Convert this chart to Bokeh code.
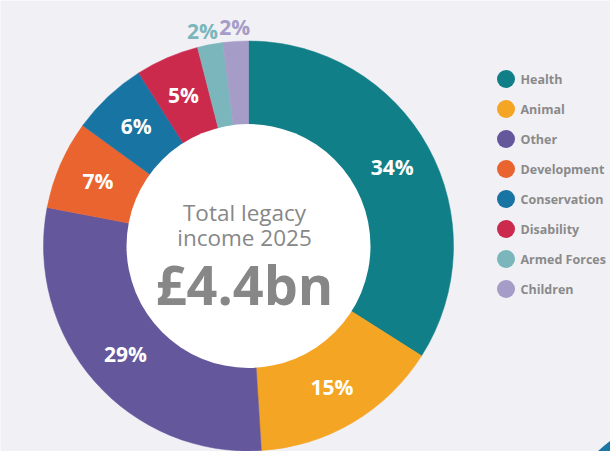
import math

from bokeh.core.properties import value
from bokeh.embed import file_html
from bokeh.models import ColumnDataSource, Range1d
from bokeh.plotting import figure
from bokeh.resources import INLINE

# data
categories = ["Health", "Animal", "Other", "Development", "Conservation",
              "Disability", "Armed Forces", "Children"]
shares = [34, 15, 29, 7, 6, 5, 2, 2]
colors = ["#117f87", "#f4a523", "#64579b", "#ea6430", "#1874a2",
          "#cb2a4c", "#7ab6bc", "#a59cc7"]
outside = [False, False, False, False, False, False, True, True]
title_lines = ["Total legacy", "income 2025"]
total_label = "£4.4bn"

BG = "#f1f0f5"
GREY = "#878787"

# the drawing area uses the picture's pixels (y flipped)
W, H = 610, 451
cx, cy = 248, H - 245.5
r_out, r_in = 205, 122

p = figure(width=W, height=H, output_backend="svg", toolbar_location=None,
           x_range=Range1d(0, W), y_range=Range1d(0, H),
           background_fill_color=BG, border_fill_color=BG,
           min_border=0, outline_line_color=None)
p.axis.visible = False
p.grid.visible = False

# corner decoration (part of another disc, bottom right)
p.circle(x=[702], y=[H - 561], radius=152, fill_color="#1a77a5", line_color=None)

# wedges, clockwise from 12 o'clock
total = sum(shares)
starts, ends, lx, ly, lcol, labels, xoff = [], [], [], [], [], [], []
cum = 0
for s, c, out in zip(shares, colors, outside):
    a0 = math.pi / 2 - 2 * math.pi * cum / total
    a1 = math.pi / 2 - 2 * math.pi * (cum + s) / total
    starts.append(a1)
    ends.append(a0)
    mid = (a0 + a1) / 2
    rr = 219 if out else 164
    lx.append(cx + rr * math.cos(mid))
    ly.append(cy + rr * math.sin(mid))
    lcol.append(c if out else "white")
    labels.append(f"{s}%")
    xoff.append(0)
    cum += s
# small outside labels sit side by side
xoff[-2] = -5

src = ColumnDataSource(dict(cat=categories, start=starts, end=ends, color=colors))
p.wedge(x=cx, y=cy, radius=r_out, start_angle="start", end_angle="end",
        fill_color="color", line_color="color", line_width=0.5, source=src)
p.circle(x=[cx], y=[cy], radius=r_in, fill_color="white", line_color=None)

lab = ColumnDataSource(dict(x=lx, y=ly, text=labels, color=lcol, xoff=xoff))
p.text(x="x", y="y", text="text", text_color="color", x_offset="xoff", source=lab,
       text_font=value("Open Sans"), text_font_style="bold",
       text_font_size="21px", text_align="center", text_baseline="middle")

# centre text
p.text(x=[cx - 4] * 2, y=[H - 211.5, H - 236.5], text=title_lines,
       text_color=GREY, text_font=value("Open Sans"), text_font_size="22.5px",
       text_align="center", text_baseline="alphabetic")
p.text(x=[cx - 4], y=[H - 283], text=[total_label], text_color=GREY,
       text_font=value("Open Sans"), text_font_style="bold",
       text_font_size="54px", text_align="center", text_baseline="alphabetic")

# legend
leg_y = [H - (78.5 + 30 * i) for i in range(len(categories))]
p.scatter(x=[505.5] * len(categories), y=leg_y, size=18, marker="circle",
          fill_color=colors, line_color=None)
p.text(x=[520] * len(categories), y=leg_y, text=categories, text_color="#8a8a8a",
       text_font=value("Open Sans"), text_font_style="bold",
       text_font_size="12.5px", text_align="left", text_baseline="middle")

open("out.html", "w").write(file_html(p, INLINE))
